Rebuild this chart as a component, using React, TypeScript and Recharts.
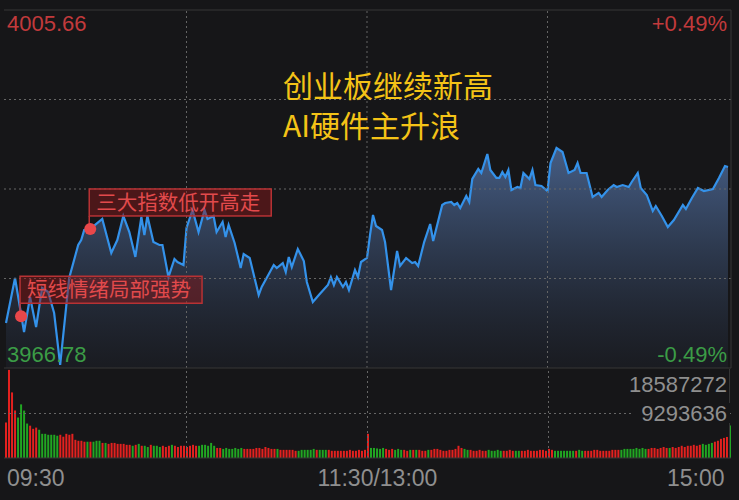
import React from "react";
import {
  ComposedChart, Area, XAxis, YAxis, ReferenceLine, ReferenceDot, BarChart, Bar, Cell,
} from "recharts";

const HIGH = 4005.66;
const LOW = 3966.78;
const PREV_CLOSE = 3986.22;
const VOL_MAX = 18587272;

// minute index (0 = 09:30, 120 = 11:30/13:00, 240 = 15:00) and index level
const priceMinutes = [
  0, 3, 6, 8, 10, 12, 14, 16, 18, 20, 21, 24, 25, 26, 28, 32, 35, 37, 39, 41,
  43, 45, 46, 47, 49, 51, 52, 54, 56, 57, 59, 60, 62, 64, 66, 67, 69, 70, 72, 73,
  74, 76, 78, 79, 81, 84, 85, 89, 90, 92, 93, 94, 95, 97, 99, 100, 102, 104, 107, 108,
  109, 110, 112, 113, 114, 116, 117, 118, 120, 121, 122, 123, 125, 126, 128, 130, 131, 133, 135, 136,
  137, 139, 141, 142, 145, 146, 148, 149, 150, 151, 153, 154, 155, 157, 158, 160, 161, 163, 164, 165,
  166, 167, 168, 170, 171, 172, 174, 175, 176, 178, 180, 181, 183, 185, 187, 189, 190, 191, 193, 195,
  197, 198, 200, 202, 203, 205, 207, 208, 210, 211, 213, 215, 216, 218, 220, 222, 225, 226, 228, 230,
  232, 235, 237, 239, 240,
];
const prices = [
  3971.67, 3976.56, 3970.69, 3974.49, 3971.23, 3975.47, 3975.03, 3972.75, 3967.11, 3973.41,
  3976.56, 3980.14, 3980.68, 3981.77, 3981.88, 3982.96, 3979.27, 3980.68, 3983.29, 3981.55,
  3978.84, 3983.18, 3981.22, 3983.29, 3980.46, 3980.14, 3980.14, 3976.66, 3978.62, 3978.29,
  3977.97, 3981.99, 3983.94, 3981.55, 3983.94, 3982.96, 3983.29, 3981.55, 3982.64, 3981.01,
  3982.31, 3980.36, 3977.64, 3979.16, 3978.73, 3974.71, 3975.58, 3977.97, 3977.64, 3978.18,
  3977.21, 3978.84, 3977.75, 3979.70, 3978.40, 3976.12, 3973.95, 3974.71, 3975.79, 3976.66,
  3975.79, 3976.66, 3975.58, 3976.12, 3975.25, 3977.42, 3976.66, 3978.29, 3978.73, 3981.22,
  3983.40, 3982.20, 3981.77, 3980.46, 3975.25, 3979.49, 3977.86, 3978.73, 3978.18, 3978.29,
  3977.86, 3980.46, 3982.42, 3980.57, 3984.48, 3984.70, 3984.81, 3984.48, 3984.70, 3984.16,
  3985.46, 3984.81, 3987.31, 3988.39, 3987.96, 3990.02, 3988.28, 3987.42, 3987.42, 3988.07,
  3987.52, 3988.28, 3986.11, 3986.44, 3986.33, 3987.96, 3987.31, 3988.28, 3986.65, 3986.55,
  3986.00, 3989.04, 3990.67, 3990.24, 3987.96, 3988.28, 3989.04, 3987.96, 3987.96, 3985.35,
  3985.79, 3985.35, 3986.11, 3986.65, 3986.44, 3986.65, 3986.44, 3986.98, 3987.96, 3986.33,
  3985.57, 3983.83, 3984.37, 3983.29, 3982.09, 3982.85, 3984.48, 3984.05, 3985.24, 3986.33,
  3986.00, 3986.22, 3987.42, 3988.72, 3988.61,
];

// per-minute volume, in 万 (x10000)
const volumes = [
  740, 1840, 1370, 990, 845, 1120, 990, 720, 675, 610,
  635, 590, 505, 505, 485, 485, 485, 465, 485, 445,
  505, 485, 505, 380, 360, 360, 340, 340, 340, 340,
  360, 360, 315, 315, 295, 315, 315, 295, 295, 295,
  275, 275, 255, 275, 295, 255, 255, 230, 275, 255,
  255, 230, 255, 230, 255, 275, 255, 230, 255, 255,
  230, 255, 275, 255, 255, 275, 275, 255, 315, 255,
  210, 210, 190, 210, 190, 190, 210, 190, 210, 190,
  190, 190, 190, 210, 210, 190, 230, 210, 190, 190,
  190, 170, 170, 170, 170, 170, 150, 150, 170, 170,
  170, 170, 190, 170, 170, 170, 170, 170, 150, 150,
  150, 150, 150, 150, 170, 150, 150, 170, 150, 170,
  505,
  210, 210, 200, 190, 210, 190, 170, 190, 170, 190,
  170, 170, 150, 170, 170, 170, 170, 150, 150, 170,
  170, 190, 190, 170, 150, 150, 170, 170, 190, 255,
  210, 190, 170, 170, 150, 150, 170, 150, 150, 170,
  150, 150, 170, 150, 150, 150, 170, 150, 150, 150,
  150, 150, 170, 150, 150, 150, 170, 170, 150, 190,
  170, 150, 150, 150, 150, 150, 150, 150, 150, 170,
  150, 150, 150, 150, 170, 170, 150, 150, 150, 150,
  170, 170, 170, 170, 190, 190, 190, 190, 210, 190,
  210, 190, 190, 210, 210, 190, 210, 230, 210, 210,
  230, 210, 230, 255, 230, 255, 255, 275, 255, 275,
  295, 275, 295, 315, 340, 360, 400, 420, 440, 680,
];
// r = up minute, g = down minute
const volSides =
  "rrrrggggrr" + "rgggggggrr" + "rrrrrrrgrg" + "ggrgrrrrrr" + "rrgrgrggrg" + "ggrrrgrrrr" +
  "rrrrgggggg" + "rrgggggggr" + "rrrrrrrrrr" + "grrrrrrggg" + "gggrgggrrr" + "rrrrrrrrrr" +
  "r" +
  "gggggrrrgg" + "grrgrgrrrg" + "rrrrrrrrrr" + "rggrrrrrrg" + "ggggrrrrgg" + "rrrrrrrrrr" +
  "rgggggggrg" + "grrrrrrrrr" + "rrrggggggg" + "ggrrrrrrrg" + "rrrrrrrrrr" + "ggggrrrrrg";

const timeTicks = [0, 120, 240];
const timeLabels: Record<number, string> = { 0: "09:30", 120: "11:30/13:00", 240: "15:00" };

const notes = [
  { minute: 5, price: 3972.4, text: "短线情绪局部强势" },
  { minute: 28, price: 3981.88, text: "三大指数低开高走" },
];

const RED = "#c23a3c";
const GREEN = "#3b9c46";
const GREY = "#8f8f8f";
const GRID = "#666666";
const BORDER = "#363636";
const NUM_FONT = "'Liberation Sans', Arial, sans-serif";
const CJK_FONT = "'Noto Sans CJK SC', sans-serif";

const priceData = priceMinutes.map((m, i) => ({ m, p: prices[i] }));
const volData = volumes.map((v, i) => ({ i, v, side: volSides[i] }));

function NoteShape(props: any) {
  const { cx, cy, text } = props;
  const left = cx - 1;
  const bottom = cy - 13;
  const top = bottom - 27;
  return (
    <g>
      <line x1={left} y1={bottom} x2={left} y2={cy} stroke="#c03436" strokeWidth={1.5} />
      <rect x={left} y={top} width={182} height={27} fill="rgba(130,24,26,0.5)" stroke="#b83234" strokeWidth={1.5} />
      <text x={left + 7} y={top + 21} fill="#e24a4c" fontSize={20.5} fontFamily={CJK_FONT}>
        {text}
      </text>
      <circle cx={cx} cy={cy} r={6} fill="#e8474a" />
    </g>
  );
}

function TimeTick(props: any) {
  const { x, payload } = props;
  const v = payload.value as number;
  const anchor = v === 0 ? "start" : v === 240 ? "end" : "middle";
  const tx = v === 0 ? x + 1.5 : v === 240 ? x - 5 : x + 10;
  return (
    <text x={tx} y={117} textAnchor={anchor} fill={GREY} fontSize={23} fontFamily={NUM_FONT}>
      {timeLabels[v]}
    </text>
  );
}

export default function App() {
  const q = (HIGH - LOW) / 4;
  return (
    <div style={{ position: "absolute", left: 0, top: 0, width: 739, height: 500, background: "#161618", overflow: "hidden" }}>
      <div style={{ position: "absolute", left: 0, top: 0 }}>
        <ComposedChart width={739} height={370} data={priceData} margin={{ top: 10, right: 8, bottom: 2, left: 4 }}>
          <defs>
            <linearGradient id="pg" x1="0" y1="0" x2="0" y2="1">
              <stop offset="0%" stopColor="#48618a" stopOpacity={0.95} />
              <stop offset="50%" stopColor="#2f3c53" stopOpacity={0.85} />
              <stop offset="100%" stopColor="#1c1f27" stopOpacity={0.6} />
            </linearGradient>
          </defs>
          <XAxis dataKey="m" type="number" domain={[-0.665, 241]} allowDataOverflow hide />
          <YAxis type="number" domain={[LOW, HIGH]} allowDataOverflow hide />
          <Area
            type="linear"
            dataKey="p"
            stroke="#3492ea"
            strokeWidth={2.2}
            fill="url(#pg)"
            fillOpacity={1}
            baseValue={LOW}
            dot={false}
            activeDot={false}
            isAnimationActive={false}
          />
          {[LOW + q, PREV_CLOSE, HIGH - q].map((y) => (
            <ReferenceLine key={y} y={y} stroke={GRID} strokeDasharray="2 3" />
          ))}
          {[60, 120, 180].map((x) => (
            <ReferenceLine key={x} x={x} stroke={GRID} strokeDasharray="2 3" />
          ))}
          <ReferenceLine x={241} stroke={BORDER} />
          <ReferenceLine y={LOW} stroke={BORDER} />
          <ReferenceLine
            y={HIGH}
            stroke={BORDER}
            label={{
              content: () => (
                <g fontFamily={NUM_FONT} fontSize={22}>
                  <text x={7} y={31} fill={RED}>{HIGH.toFixed(2)}</text>
                  <text x={727} y={31} fill={RED} textAnchor="end">+0.49%</text>
                  <text x={7} y={362} fill={GREEN}>{LOW.toFixed(2)}</text>
                  <text x={727} y={362} fill={GREEN} textAnchor="end">-0.49%</text>
                </g>
              ),
            }}
          />
          {notes.map((n) => (
            <ReferenceDot key={n.text} x={n.minute} y={n.price} r={6} shape={(p: any) => <NoteShape {...p} text={n.text} />} />
          ))}
        </ComposedChart>
      </div>

      <div style={{ position: "absolute", left: 0, top: 369 }}>
        <BarChart width={739} height={131} data={volData} margin={{ top: 0, right: 8, bottom: 0, left: 4 }} barCategoryGap={0}>
          <XAxis
            dataKey="i"
            ticks={timeTicks}
            interval={0}
            axisLine={false}
            tickLine={false}
            height={42}
            tick={(p: any) => <TimeTick {...p} />}
          />
          <YAxis domain={[0, VOL_MAX / 1e4]} allowDataOverflow hide />
          <ReferenceLine y={VOL_MAX / 2 / 1e4} stroke={GRID} strokeDasharray="2 3" />
          {[60, 120, 180].map((x) => (
            <ReferenceLine key={x} x={x} stroke={GRID} strokeDasharray="2 3" />
          ))}
          <ReferenceLine x={240} stroke={BORDER} />
          <ReferenceLine
            y={0}
            stroke={BORDER}
            label={{
              content: () => (
                <g fontFamily={NUM_FONT} fontSize={22} fill={GREY}>
                  <text x={727} y={23} textAnchor="end">{VOL_MAX}</text>
                  <rect x={632} y={34} width={98} height={20} fill="#161618" />
                  <text x={727} y={52} textAnchor="end">{VOL_MAX / 2}</text>
                </g>
              ),
            }}
          />
          <Bar dataKey="v" barSize={2} isAnimationActive={false}>
            {volData.map((d) => (
              <Cell key={d.i} fill={d.side === "r" ? "#e3211f" : "#21a622"} />
            ))}
          </Bar>
        </BarChart>
      </div>

      <div style={{ position: "absolute", left: 283, top: 64, color: "#f4c317", fontFamily: CJK_FONT, fontSize: 30, lineHeight: "40px", whiteSpace: "nowrap" }}>
        <div>创业板继续新高</div>
        <div>AI硬件主升浪</div>
      </div>
    </div>
  );
}
